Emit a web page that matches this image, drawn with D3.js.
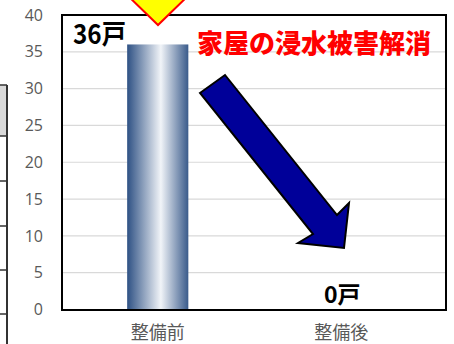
<!DOCTYPE html>
<html><head><meta charset="utf-8">
<script src="https://cdn.jsdelivr.net/npm/d3@7"></script>
<style>body{margin:0;background:#fff;}svg{display:block;}</style>
</head><body>
<script>
const categories = ["整備前", "整備後"];
const values = [36, 0];
const valueLabels = ["36戸", "0戸"];
const yTicks = [0, 5, 10, 15, 20, 25, 30, 35, 40];
const headline = "家屋の浸水被害解消";

const W = 454, H = 344;
const svg = d3.select("body").append("svg").attr("width", W).attr("height", H);

const y = d3.scaleLinear().domain([0, 40]).range([309.5, 15]);
const x = d3.scaleBand().domain(categories).range([66, 433]).padding(0);
const barW = x.bandwidth() / 3;

// partial table at left edge
const tbl = svg.append("g");
tbl.append("rect").attr("x", -2).attr("y", 85).attr("width", 9).attr("height", 51).attr("fill", "#d9d9d9");
[85, 136, 181, 226, 270, 314].forEach(v => tbl.append("line").attr("x1", -2).attr("x2", 7).attr("y1", v).attr("y2", v).attr("stroke", "#333").attr("stroke-width", 1.5));
tbl.append("line").attr("x1", 7).attr("x2", 7).attr("y1", 85).attr("y2", 344).attr("stroke", "#333").attr("stroke-width", 2);

// gradient
const defs = svg.append("defs");
const g = defs.append("linearGradient").attr("id", "barGrad").attr("x1", 0).attr("x2", 1).attr("y1", 0).attr("y2", 0);
g.append("stop").attr("offset", 0).attr("stop-color", "#2e5184");
g.append("stop").attr("offset", 0.55).attr("stop-color", "#f1f4f8");
g.append("stop").attr("offset", 1).attr("stop-color", "#3a5b8b");

// gridlines
svg.append("g").selectAll("line").data(yTicks.filter(t => t > 0 && t < 40)).join("line")
  .attr("x1", 62).attr("x2", 446).attr("y1", d => y(d)).attr("y2", d => y(d))
  .attr("stroke", "#d9d9d9").attr("stroke-width", 1.2);

// y axis labels
const yAxis = d3.axisLeft(y).tickValues(yTicks).tickSize(0).tickPadding(0);
const ya = svg.append("g").attr("transform", "translate(43,0)").call(yAxis);
ya.select(".domain").remove();
ya.selectAll("text").attr("fill", "#595959").style("font-family", "'Open Sans', sans-serif").style("font-size", "16px");

// bars
svg.append("g").selectAll("rect").data(values).join("rect")
  .attr("x", (d, i) => x(categories[i]) + (x.bandwidth() - barW) / 2)
  .attr("width", barW)
  .attr("y", d => y(d))
  .attr("height", d => y(0) - y(d))
  .attr("fill", "url(#barGrad)");

// border
svg.append("rect").attr("x", 62).attr("y", 15).attr("width", 384).attr("height", 295)
  .attr("fill", "none").attr("stroke", "#000").attr("stroke-width", 2);

// x axis labels
const xAxis = d3.axisBottom(x).tickSize(0).tickPadding(0);
const xa = svg.append("g").attr("transform", "translate(0,324)").call(xAxis);
xa.select(".domain").remove();
xa.selectAll("text").attr("fill", "#595959").attr("dy", "0.85em").style("font-family", "'Noto Sans CJK JP', sans-serif").style("font-size", "18px");

// value labels
svg.append("text").attr("transform", "translate(73,43.5) scale(0.9,1)").text(valueLabels[0])
  .style("font-family", "'Noto Sans CJK JP', sans-serif").style("font-weight", 700).style("font-size", "27px").attr("fill", "#000");
svg.append("text").attr("x", x(categories[1]) + x.bandwidth() / 2 + 1).attr("y", 302.5).attr("text-anchor", "middle").text(valueLabels[1])
  .style("font-family", "'Noto Sans CJK JP', sans-serif").style("font-weight", 700).style("font-size", "23px").attr("fill", "#000");

// headline
svg.append("text").attr("x", 197).attr("y", 53).text(headline)
  .style("font-family", "'Noto Sans CJK JP', sans-serif").style("font-weight", 900).style("font-size", "26px").attr("fill", "#ff0000");

// blue arrow
const blueArrow = [[200,93],[225,75],[337,215],[349,203],[344,248],[298,243],[313,234]];
svg.append("path").attr("d", d3.line()(blueArrow) + "Z").attr("fill", "#000099").attr("stroke", "#000").attr("stroke-width", 2).attr("stroke-linejoin", "miter");

// yellow arrow at top (cut off)
const yellowArrow = [[145,-30],[171,-30],[171,-8],[192,-8],[158,25],[124,-8],[145,-8]];
svg.append("path").attr("d", d3.line()(yellowArrow) + "Z").attr("fill", "#ffff00").attr("stroke", "#ff0000").attr("stroke-width", 2);
</script>
</body></html>
